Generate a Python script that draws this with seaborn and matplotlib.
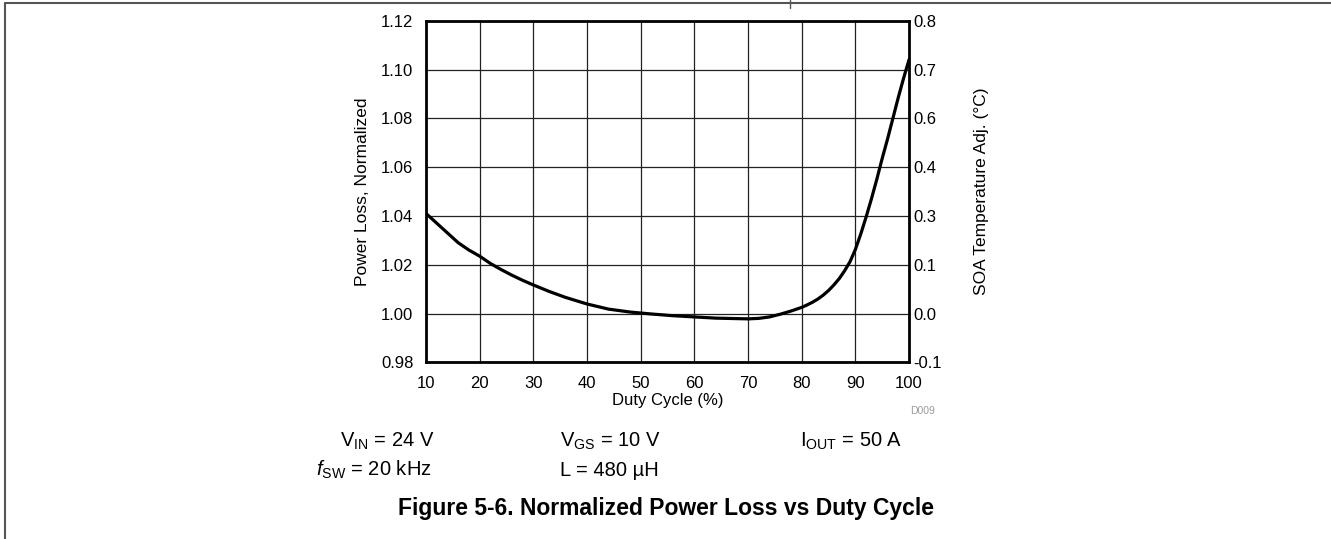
import matplotlib
matplotlib.use("Agg")
import matplotlib.pyplot as plt
from matplotlib.lines import Line2D
import seaborn as sns
import pandas as pd

# ---- data ----
duty_cycle = [10, 12, 14, 16, 18, 20, 22, 24, 26, 28, 30, 33, 36, 40, 44, 48,
              52, 56, 60, 64, 68, 70, 72, 74, 76, 78, 80, 81, 82, 83, 84, 85,
              86, 87, 88, 89, 90, 91, 92, 93, 94, 95, 96, 97, 98, 99, 100]
power_loss = [1.041, 1.037, 1.033, 1.029, 1.026, 1.0235, 1.0205, 1.018, 1.0157,
              1.0136, 1.0117, 1.009, 1.0066, 1.0039, 1.0018, 1.0006, 0.9998,
              0.9991, 0.9986, 0.9981, 0.9979, 0.9978, 0.9980, 0.9986, 0.9997,
              1.0010, 1.0025, 1.0035, 1.0046, 1.0059, 1.0075, 1.0094, 1.0117,
              1.0143, 1.0175, 1.0212, 1.0262, 1.0325, 1.0395, 1.047, 1.055,
              1.0635, 1.0715, 1.080, 1.0885, 1.0965, 1.104]
x_ticks = [10, 20, 30, 40, 50, 60, 70, 80, 90, 100]
y_ticks = [0.98, 1.00, 1.02, 1.04, 1.06, 1.08, 1.10, 1.12]
y_tick_labels = ["0.98", "1.00", "1.02", "1.04", "1.06", "1.08", "1.10", "1.12"]
soa_tick_labels = ["-0.1", "0.0", "0.1", "0.3", "0.4", "0.6", "0.7", "0.8"]

df = pd.DataFrame({"duty": duty_cycle, "loss": power_loss})

sns.set_theme(style="white")
plt.rcParams["font.family"] = ["Liberation Sans", "DejaVu Sans"]
plt.rcParams["mathtext.fontset"] = "custom"
plt.rcParams["mathtext.rm"] = "Liberation Sans"
plt.rcParams["mathtext.it"] = "Liberation Sans:italic"
plt.rcParams["text.color"] = "black"
plt.rcParams["axes.labelcolor"] = "black"

fig = plt.figure(figsize=(13.31, 5.39), dpi=100)
fig.patch.set_facecolor("white")
ax = fig.add_axes([426 / 1331, 1 - 362.3 / 539, 483 / 1331, 341.6 / 539])

sns.lineplot(data=df, x="duty", y="loss", ax=ax, color="black", linewidth=2.3)

ax.set_xlim(10, 100)
ax.set_ylim(0.98, 1.12)
ax.set_xticks(x_ticks)
ax.set_xticklabels([str(v) for v in x_ticks])
ax.set_yticks(y_ticks)
ax.set_yticklabels(y_tick_labels)
ax.grid(True, color="#222222", linewidth=0.9)
ax.tick_params(axis="both", length=0, labelsize=12, colors="black")
ax.tick_params(axis="y", pad=9)
ax.tick_params(axis="x", pad=10)
ax.set_xlabel("Duty Cycle (%)", fontsize=12, labelpad=1)
ax.set_ylabel("Power Loss, Normalized", fontsize=12.5, labelpad=8)
for s in ax.spines.values():
    s.set_visible(True)
    s.set_color("black")
    s.set_linewidth(2.0)

ax2 = ax.twinx()
ax2.set_ylim(0.98, 1.12)
ax2.set_yticks(y_ticks)
ax2.set_yticklabels(soa_tick_labels)
ax2.tick_params(axis="y", length=0, labelsize=12, pad=3, colors="black")
ax2.set_ylabel("SOA Temperature Adj. (°C)", fontsize=12.5, labelpad=23)
for s in ax2.spines.values():
    s.set_visible(False)

fig.text(923 / 1331, 1 - 411 / 539, "D009", fontsize=7.5, color="#9a9a9a",
         ha="center", va="center")

fs = 14.5
fig.text(340 / 1331, 1 - 441 / 539, r"V$_{\mathregular{IN}}$ = 24 V", fontsize=fs,
         ha="left", va="center")
fig.text(560 / 1331, 1 - 441 / 539, r"V$_{\mathregular{GS}}$ = 10 V", fontsize=fs,
         ha="left", va="center")
fig.text(800 / 1331, 1 - 441 / 539, r"I$_{\mathregular{OUT}}$ = 50 A", fontsize=fs,
         ha="left", va="center")
fig.text(316 / 1331, 1 - 470 / 539, r"$\mathit{f}$$_{\mathregular{SW}}$ = 20 kHz", fontsize=fs,
         ha="left", va="center")
fig.text(560 / 1331, 1 - 470 / 539, "L = 480 µH", fontsize=fs,
         ha="left", va="center")
fig.text(666 / 1331, 1 - 508 / 539, "Figure 5-6. Normalized Power Loss vs Duty Cycle",
         fontsize=16.5, fontweight="bold", ha="center", va="center")

# page frame lines
fig.add_artist(Line2D([5 / 1331, 1], [1 - 2.5 / 539, 1 - 2.5 / 539],
                      transform=fig.transFigure, color="#555555", linewidth=1.5))
fig.add_artist(Line2D([5 / 1331, 5 / 1331], [0, 1 - 2.5 / 539],
                      transform=fig.transFigure, color="#555555", linewidth=1.5))
fig.add_artist(Line2D([790 / 1331, 790 / 1331], [1 - 8 / 539, 1],
                      transform=fig.transFigure, color="#555555", linewidth=1.0))

fig.savefig("out.png", dpi=100, facecolor="white")
